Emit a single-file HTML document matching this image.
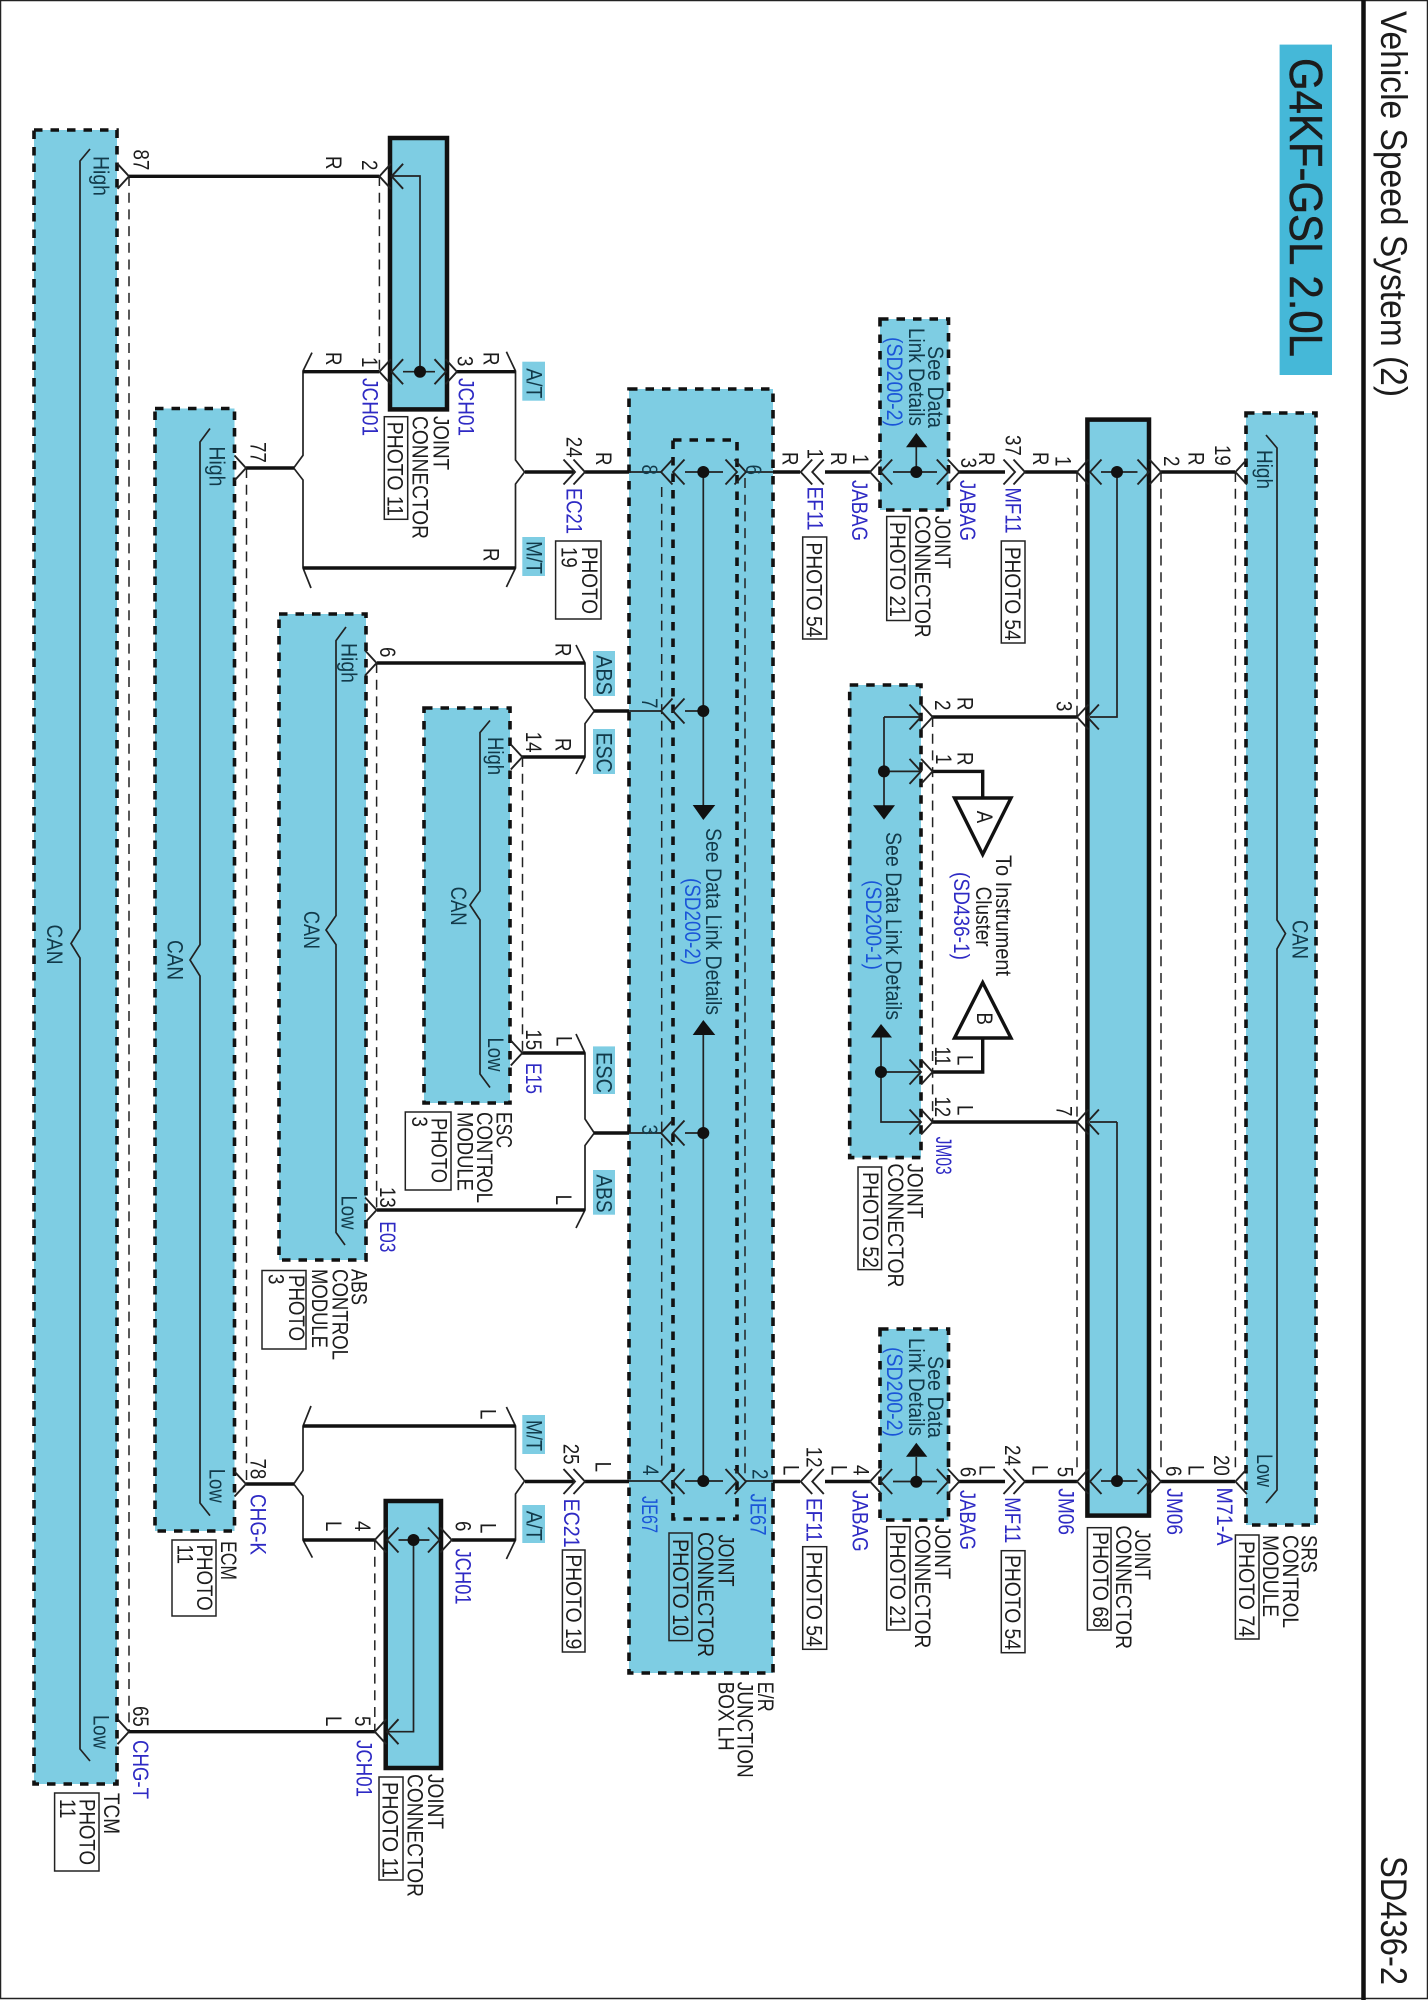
<!DOCTYPE html>
<html><head><meta charset="utf-8"><title>SD436-2</title>
<style>
html,body{margin:0;padding:0;background:#fff}
svg{display:block}
text{font-family:"Liberation Sans",sans-serif;font-size:22px;fill:#1c1c1c}
.b{fill:#2e2ac4}
.c{fill:#1a55d8}
.d{fill:#123a4a}
.box{fill:#7ecde3;stroke:#111;stroke-width:3.6;stroke-dasharray:8.5 8}
.solid{fill:#7ecde3;stroke:#111;stroke-width:4.5}
.ph{fill:none;stroke:#222;stroke-width:1.5}
.tag{fill:#7ecde3}
.T{fill:none;stroke:#111;stroke-width:3.4}
.t{fill:none;stroke:#222;stroke-width:1.7}
.da{fill:none;stroke:#222;stroke-width:1.5;stroke-dasharray:10 6.7}
.ch{fill:none;stroke:#222;stroke-width:1.9}
</style></head><body>
<svg width="1428" height="2000" viewBox="0 0 1428 2000" xmlns="http://www.w3.org/2000/svg">
<defs>
<path id="g" class="ch" d="M-11.5 -12.5L0 0L-11.5 12.5"/>
<path id="l" class="ch" d="M11.5 -12.5L0 0L11.5 12.5"/>
</defs>
<rect width="1428" height="2000" fill="#fff"/>
<rect x="0.5" y="0.5" width="1427" height="1998" fill="none" stroke="#222" stroke-width="1.5"/>
<path d="M1363.5 0V2000" stroke="#111" stroke-width="4.5" fill="none"/>
<rect x="1279.6" y="44.6" width="52.4" height="330.4" fill="#45b8d8"/>

<!-- dashed connectors -->
<path class="da" d="M129 176V1731M379.4 176V371M246.5 468V1484M376.6 663V1209M522.5 757V1053M1077 472V1474M1161 472V1474M1235.4 472V1474M932.6 717V1122M374.8 1540V1731"/>

<!-- boxes -->
<rect class="box" x="34" y="130" width="83" height="1654"/>
<rect class="box" x="155" y="408.5" width="79.5" height="1122.5"/>
<rect class="box" x="279" y="614" width="87" height="646"/>
<rect class="box" x="424" y="708" width="86" height="395"/>
<rect class="box" x="629" y="389" width="144" height="1284"/>
<path class="da" d="M661.7 487V1470M745 478V1474"/>
<rect class="box" x="673" y="440" width="64" height="1079"/>
<rect class="box" x="880" y="319" width="68.5" height="191"/>
<rect class="box" x="880" y="1329" width="68.5" height="191"/>
<rect class="box" x="849.7" y="685" width="71.3" height="472.6"/>
<rect class="box" x="1246" y="413" width="70" height="1112"/>
<rect class="solid" x="1087.4" y="419.6" width="61.6" height="1096"/>
<rect class="solid" x="390" y="138" width="57" height="271.4"/>
<rect class="solid" x="385.7" y="1501" width="55.3" height="267"/>

<!-- tags -->
<rect class="tag" x="522.3" y="361.7" width="22.7" height="39"/>
<rect class="tag" x="522.3" y="537" width="22.7" height="39"/>
<rect class="tag" x="593" y="651" width="22" height="45"/>
<rect class="tag" x="593" y="729" width="22" height="45"/>
<rect class="tag" x="593" y="1046.4" width="22" height="47.6"/>
<rect class="tag" x="593" y="1170" width="22" height="44.7"/>
<rect class="tag" x="522.3" y="1415" width="22.7" height="39"/>
<rect class="tag" x="522.3" y="1505" width="22.7" height="38"/>

<!-- photo boxes -->
<rect class="ph" x="384.3" y="416.7" width="23.4" height="102.6"/>
<rect class="ph" x="555.6" y="541" width="45.4" height="78"/>
<rect class="ph" x="405.3" y="1112" width="45.7" height="78"/>
<rect class="ph" x="262" y="1270.5" width="44" height="78.5"/>
<rect class="ph" x="172" y="1540" width="44" height="76"/>
<rect class="ph" x="54.6" y="1793" width="44.4" height="78"/>
<rect class="ph" x="379" y="1777" width="24" height="103"/>
<rect class="ph" x="562.4" y="1550" width="22.6" height="102"/>
<rect class="ph" x="669" y="1533" width="23" height="107.6"/>
<rect class="ph" x="802.7" y="537" width="24" height="102"/>
<rect class="ph" x="1001.3" y="541" width="23.7" height="102"/>
<rect class="ph" x="886.7" y="516.5" width="23.3" height="104"/>
<rect class="ph" x="858" y="1167" width="23.6" height="102.6"/>
<rect class="ph" x="802.7" y="1546.7" width="24" height="102.6"/>
<rect class="ph" x="886.7" y="1526.7" width="23.3" height="103.3"/>
<rect class="ph" x="1001.3" y="1550.7" width="23.7" height="102"/>
<rect class="ph" x="1087.4" y="1527.7" width="23.6" height="102.3"/>
<rect class="ph" x="1235.4" y="1535" width="23.6" height="104"/>

<!-- thin wires & brackets -->
<path class="t" d="M90 149L80 161V929L71 943.5L80 958V1749L90 1761
M210 428.5L200 442V944.6L190 960L200 976V1503L210 1515.6
M346 627L336 640.6V915.6L326 930L336 944.6V1232.5L345 1245
M490 720.5L480 732.6V891L470 905L480 920V1074L490 1087.5
M1266 435L1277 448V920L1285.5 933.5L1277 949V1490L1266 1503
M312 352.6L303 371V455.3L293.7 468L303 480V568L311 588
M506.4 351.8L515.5 371V460L524.6 472L515.5 484V568L506.4 587
M576 645L585 663V698L594.3 711L585 723.6V757L576 774
M576 1034L585 1053V1119L594.3 1133L585 1145.5V1210L576 1228
M311 1406L303 1426V1470.5L293.7 1484L303 1496V1540L312.4 1557.6
M506.4 1407L515.5 1426V1469L524.6 1481L515.5 1494V1540L506.4 1559
M391 176H420V371M403 371.7H435M413.5 1540V1731.7H387M398.5 1540H429.4
M629 472H661M685 472H723M746 472H773M629 711H661M685 711H703.3M629 1133H661M685 1133H703.3M629 1481H661M685 1481H723M746 1481H773
M703.3 472V806M703.3 1034V1481
M893 472H937M916.3 447V472M893 1481.5H937M916.3 1457V1481
M1101 472H1137.5M1117 472V717H1090M1117 1122V1481M1090 1122H1117M1101 1481H1137.5
M884 717V806M884 717H921M884 771.4H921M881 1037V1122H921M881 1072H921"/>

<!-- thick wires -->
<path class="T" d="M129 176.3H379M303 371.7H379M457 371.7H515.5M303 568H515.5M246 468H294M525 472H575M585 472H629M773 472H800M825 472H870M958 472H1005M1025 472H1077M1161 472H1235M377 663H585M522 757H585M594 711H629M522 1053H585M594 1133H629M377 1210H585M932 717H1077M932 1122H1077M932 771.4H982.7V798M932 1072H982.7V1038M303 1426H515.5M246 1484H294M303 1540H375M452 1540H515.5M129 1731.7H375M525 1481.5H575M585 1481.5H629M773 1481.5H800M825 1481.5H870M958 1481.5H1005M1025 1481.5H1077M1161 1481.5H1235"/>

<!-- chevrons -->
<use href="#g" x="129" y="176.3"/><use href="#l" x="379.4" y="176.3"/><use href="#l" x="391.6" y="176.3"/>
<use href="#l" x="379.4" y="371.7"/><use href="#l" x="391.6" y="371.7"/><use href="#g" x="446" y="371.7"/><use href="#g" x="457" y="371.7"/>
<use href="#g" x="246" y="468"/>
<use href="#g" x="575" y="472"/><use href="#g" x="585" y="472"/><use href="#l" x="661" y="472"/><use href="#l" x="673" y="472"/><use href="#g" x="737" y="472"/><use href="#g" x="746" y="472"/><use href="#l" x="800.7" y="472"/><use href="#l" x="812.3" y="472"/><use href="#l" x="870" y="472"/><use href="#l" x="880.7" y="472"/><use href="#g" x="948.3" y="472"/><use href="#g" x="959.3" y="472"/><use href="#g" x="1015" y="472"/><use href="#g" x="1025" y="472"/><use href="#l" x="1077" y="472"/><use href="#l" x="1090" y="472"/><use href="#g" x="1149" y="472"/><use href="#g" x="1161" y="472"/><use href="#l" x="1235.4" y="472"/>
<use href="#g" x="575" y="1481.5"/><use href="#g" x="585" y="1481.5"/><use href="#l" x="661" y="1481.5"/><use href="#l" x="673" y="1481.5"/><use href="#g" x="737" y="1481.5"/><use href="#g" x="746" y="1481.5"/><use href="#l" x="800.7" y="1481.5"/><use href="#l" x="812.3" y="1481.5"/><use href="#l" x="870" y="1481.5"/><use href="#l" x="880.7" y="1481.5"/><use href="#g" x="948.3" y="1481.5"/><use href="#g" x="959.3" y="1481.5"/><use href="#g" x="1015" y="1481.5"/><use href="#g" x="1025" y="1481.5"/><use href="#l" x="1077" y="1481.5"/><use href="#l" x="1090" y="1481.5"/><use href="#g" x="1149" y="1481.5"/><use href="#g" x="1161" y="1481.5"/><use href="#l" x="1235.4" y="1481.5"/>
<use href="#g" x="376.6" y="663"/><use href="#g" x="522.3" y="757"/><use href="#g" x="522.3" y="1053"/><use href="#g" x="376.6" y="1210"/>
<use href="#l" x="661" y="711"/><use href="#l" x="673" y="711"/><use href="#l" x="661" y="1133"/><use href="#l" x="673" y="1133"/>
<use href="#g" x="921" y="717"/><use href="#g" x="932.6" y="717"/><use href="#l" x="1077" y="717"/><use href="#l" x="1087.4" y="717"/>
<use href="#g" x="921" y="771.4"/><use href="#g" x="932.6" y="771.4"/><use href="#g" x="921" y="1072"/><use href="#g" x="932.6" y="1072"/>
<use href="#g" x="921" y="1122"/><use href="#g" x="932.6" y="1122"/><use href="#l" x="1077" y="1122"/><use href="#l" x="1087.4" y="1122"/>
<use href="#g" x="246" y="1484"/>
<use href="#l" x="374.8" y="1540"/><use href="#l" x="387" y="1540"/><use href="#g" x="439.5" y="1540"/><use href="#g" x="451.8" y="1540"/>
<use href="#g" x="129" y="1731.7"/><use href="#l" x="374.8" y="1731.7"/><use href="#l" x="387" y="1731.7"/>

<!-- dots -->
<g fill="#111">
<circle cx="420" cy="371.7" r="6"/><circle cx="413.5" cy="1540" r="6"/>
<circle cx="703.3" cy="472" r="6"/><circle cx="703.3" cy="711" r="6"/><circle cx="703.3" cy="1133" r="6"/><circle cx="703.3" cy="1481" r="6"/>
<circle cx="916.3" cy="472" r="6"/><circle cx="916.3" cy="1481.7" r="6"/>
<circle cx="1117" cy="472" r="6"/><circle cx="1117" cy="1481" r="6"/>
<circle cx="884" cy="771.4" r="6"/><circle cx="881" cy="1072" r="6"/>
<!-- arrowheads -->
<path d="M692.7 805H715.3L703.3 820Z"/><path d="M692.7 1035H715.3L703.3 1020Z"/>
<path d="M906 447.3H927.3L916.3 433Z"/><path d="M906 1456.7H927.3L916.3 1442.7Z"/>
<path d="M873 805.3H895L884 819.6Z"/><path d="M871 1037.5H892L881 1024Z"/>
</g>
<path d="M954.5 798H1011L982.7 854.5Z" fill="#fff" stroke="#111" stroke-width="3.4"/>
<path d="M954.5 1038H1011L982.7 982.6Z" fill="#fff" stroke="#111" stroke-width="3.4"/>

<!-- header -->
<text transform="translate(1381 11)rotate(90)" style="font-size:37px" textLength="386" lengthAdjust="spacingAndGlyphs">Vehicle Speed System (2)</text>
<text transform="translate(1381 1856)rotate(90)" style="font-size:37px" textLength="129" lengthAdjust="spacingAndGlyphs">SD436-2</text>
<text transform="translate(1290 58)rotate(90)" style="font-size:46px;stroke:#1c1c1c;stroke-width:.5" textLength="299" lengthAdjust="spacingAndGlyphs">G4KF-GSL 2.0L</text>

<!-- box inner labels -->
<text class="d" transform="translate(93.4 156)rotate(90)" textLength="40" lengthAdjust="spacingAndGlyphs">High</text>
<text class="d" transform="translate(93.4 1715)rotate(90)" textLength="34" lengthAdjust="spacingAndGlyphs">Low</text>
<text class="d" transform="translate(47 924.5)rotate(90)" textLength="40" lengthAdjust="spacingAndGlyphs">CAN</text>
<text class="d" transform="translate(209.5 446.4)rotate(90)" textLength="40" lengthAdjust="spacingAndGlyphs">High</text>
<text class="d" transform="translate(209.5 1468.7)rotate(90)" textLength="34" lengthAdjust="spacingAndGlyphs">Low</text>
<text class="d" transform="translate(167.6 940)rotate(90)" textLength="40" lengthAdjust="spacingAndGlyphs">CAN</text>
<text class="d" transform="translate(341.5 643)rotate(90)" textLength="40" lengthAdjust="spacingAndGlyphs">High</text>
<text class="d" transform="translate(341.5 1195.5)rotate(90)" textLength="34" lengthAdjust="spacingAndGlyphs">Low</text>
<text class="d" transform="translate(304 911)rotate(90)" textLength="38" lengthAdjust="spacingAndGlyphs">CAN</text>
<text class="d" transform="translate(488 737)rotate(90)" textLength="38" lengthAdjust="spacingAndGlyphs">High</text>
<text class="d" transform="translate(488 1037.5)rotate(90)" textLength="34" lengthAdjust="spacingAndGlyphs">Low</text>
<text class="d" transform="translate(451 886.6)rotate(90)" textLength="39" lengthAdjust="spacingAndGlyphs">CAN</text>
<text class="d" transform="translate(1257 450)rotate(90)" textLength="39" lengthAdjust="spacingAndGlyphs">High</text>
<text class="d" transform="translate(1257 1454)rotate(90)" textLength="33" lengthAdjust="spacingAndGlyphs">Low</text>
<text class="d" transform="translate(1292.4 920)rotate(90)" textLength="39" lengthAdjust="spacingAndGlyphs">CAN</text>

<!-- tag labels -->
<text class="d" transform="translate(526.7 368.3)rotate(90)" textLength="30" lengthAdjust="spacingAndGlyphs">A/T</text>
<text class="d" transform="translate(526.7 541)rotate(90)" textLength="33" lengthAdjust="spacingAndGlyphs">M/T</text>
<text class="d" transform="translate(596.6 655)rotate(90)" textLength="40" lengthAdjust="spacingAndGlyphs">ABS</text>
<text class="d" transform="translate(596.6 732.6)rotate(90)" textLength="40" lengthAdjust="spacingAndGlyphs">ESC</text>
<text class="d" transform="translate(596.6 1052)rotate(90)" textLength="41" lengthAdjust="spacingAndGlyphs">ESC</text>
<text class="d" transform="translate(596.6 1174.5)rotate(90)" textLength="38" lengthAdjust="spacingAndGlyphs">ABS</text>
<text class="d" transform="translate(526.7 1420)rotate(90)" textLength="31" lengthAdjust="spacingAndGlyphs">M/T</text>
<text class="d" transform="translate(526.7 1510.7)rotate(90)" textLength="30" lengthAdjust="spacingAndGlyphs">A/T</text>

<!-- pin numbers and wire colours -->
<text transform="translate(133.4 149.5)rotate(90)scale(.85 1)">87</text>
<text transform="translate(362 160)rotate(90)scale(.85 1)">2</text>
<text transform="translate(326 156)rotate(90)scale(.85 1)">R</text>
<text transform="translate(326 352)rotate(90)scale(.85 1)">R</text>
<text transform="translate(362 357)rotate(90)scale(.85 1)">1</text>
<text transform="translate(457.7 356)rotate(90)scale(.85 1)">3</text>
<text transform="translate(483.6 352)rotate(90)scale(.85 1)">R</text>
<text transform="translate(483.6 548)rotate(90)scale(.85 1)">R</text>
<text transform="translate(250.5 442)rotate(90)scale(.85 1)">77</text>
<text transform="translate(566.7 436.7)rotate(90)scale(.85 1)">24</text>
<text transform="translate(596 452)rotate(90)scale(.85 1)">R</text>
<text transform="translate(380 647)rotate(90)scale(.85 1)">6</text>
<text transform="translate(555.6 643)rotate(90)scale(.85 1)">R</text>
<text transform="translate(526 731.7)rotate(90)scale(.85 1)">14</text>
<text transform="translate(555.6 738)rotate(90)scale(.85 1)">R</text>
<text transform="translate(526 1029.4)rotate(90)scale(.85 1)">15</text>
<text transform="translate(556.5 1036)rotate(90)scale(.85 1)">L</text>
<text transform="translate(380 1187)rotate(90)scale(.85 1)">13</text>
<text transform="translate(556 1194.6)rotate(90)scale(.85 1)">L</text>
<text class="d" transform="translate(642 464.5)rotate(90)scale(.85 1)">8</text>
<text class="d" transform="translate(746 464.5)rotate(90)scale(.85 1)">6</text>
<text class="d" transform="translate(642 698)rotate(90)scale(.85 1)">7</text>
<text class="d" transform="translate(642 1124.5)rotate(90)scale(.85 1)">3</text>
<text class="d" transform="translate(643 1465)rotate(90)scale(.85 1)">4</text>
<text class="d" transform="translate(752.7 1469)rotate(90)scale(.85 1)">2</text>
<text transform="translate(782.3 452)rotate(90)scale(.85 1)">R</text>
<text transform="translate(807.4 448.6)rotate(90)scale(.85 1)">1</text>
<text transform="translate(831 452)rotate(90)scale(.85 1)">R</text>
<text transform="translate(853 454)rotate(90)scale(.85 1)">1</text>
<text transform="translate(961 457.6)rotate(90)scale(.85 1)">3</text>
<text transform="translate(979 452)rotate(90)scale(.85 1)">R</text>
<text transform="translate(1005.5 435)rotate(90)scale(.85 1)">37</text>
<text transform="translate(1033 452)rotate(90)scale(.85 1)">R</text>
<text transform="translate(1055.5 456)rotate(90)scale(.85 1)">1</text>
<text transform="translate(1164 456)rotate(90)scale(.85 1)">2</text>
<text transform="translate(1188.5 452)rotate(90)scale(.85 1)">R</text>
<text transform="translate(1215 445)rotate(90)scale(.85 1)">19</text>
<text transform="translate(935 700)rotate(90)scale(.85 1)">2</text>
<text transform="translate(957.6 697)rotate(90)scale(.85 1)">R</text>
<text transform="translate(936 754)rotate(90)scale(.85 1)">1</text>
<text transform="translate(957.6 752)rotate(90)scale(.85 1)">R</text>
<text transform="translate(1056.5 701)rotate(90)scale(.85 1)">3</text>
<text transform="translate(935 1046.4)rotate(90)scale(.85 1)">11</text>
<text transform="translate(957.6 1055)rotate(90)scale(.85 1)">L</text>
<text transform="translate(935 1096.4)rotate(90)scale(.85 1)">12</text>
<text transform="translate(957.6 1105)rotate(90)scale(.85 1)">L</text>
<text transform="translate(1056.5 1106)rotate(90)scale(.85 1)">7</text>
<text transform="translate(977 810.7)rotate(90)scale(.85 1)">A</text>
<text transform="translate(977 1012.5)rotate(90)scale(.85 1)">B</text>
<text transform="translate(783.3 1465)rotate(90)scale(.85 1)">L</text>
<text transform="translate(806.7 1446.7)rotate(90)scale(.85 1)">12</text>
<text transform="translate(831.7 1465)rotate(90)scale(.85 1)">L</text>
<text transform="translate(853.3 1465)rotate(90)scale(.85 1)">4</text>
<text transform="translate(960.7 1466.7)rotate(90)scale(.85 1)">6</text>
<text transform="translate(979.3 1465)rotate(90)scale(.85 1)">L</text>
<text transform="translate(1005 1445)rotate(90)scale(.85 1)">24</text>
<text transform="translate(1032.7 1465)rotate(90)scale(.85 1)">L</text>
<text transform="translate(1057.3 1466.7)rotate(90)scale(.85 1)">5</text>
<text transform="translate(1166 1466)rotate(90)scale(.85 1)">6</text>
<text transform="translate(1188.5 1465)rotate(90)scale(.85 1)">L</text>
<text transform="translate(1214 1455)rotate(90)scale(.85 1)">20</text>
<text transform="translate(250.5 1458.5)rotate(90)scale(.85 1)">78</text>
<text transform="translate(563.3 1443.7)rotate(90)scale(.85 1)">25</text>
<text transform="translate(595.6 1461.6)rotate(90)scale(.85 1)">L</text>
<text transform="translate(480.4 1409)rotate(90)scale(.85 1)">L</text>
<text transform="translate(326 1521)rotate(90)scale(.85 1)">L</text>
<text transform="translate(355 1521)rotate(90)scale(.85 1)">4</text>
<text transform="translate(455.4 1521)rotate(90)scale(.85 1)">6</text>
<text transform="translate(480.4 1523)rotate(90)scale(.85 1)">L</text>
<text transform="translate(133 1706)rotate(90)scale(.85 1)">65</text>
<text transform="translate(326 1716)rotate(90)scale(.85 1)">L</text>
<text transform="translate(355 1716)rotate(90)scale(.85 1)">5</text>

<!-- blue connector ids -->
<text class="b" transform="translate(362.7 378)rotate(90)" textLength="58" lengthAdjust="spacingAndGlyphs">JCH01</text>
<text class="b" transform="translate(458.3 378)rotate(90)" textLength="58" lengthAdjust="spacingAndGlyphs">JCH01</text>
<text class="b" transform="translate(566.7 488)rotate(90)" textLength="46" lengthAdjust="spacingAndGlyphs">EC21</text>
<text class="b" transform="translate(526 1063)rotate(90)" textLength="31" lengthAdjust="spacingAndGlyphs">E15</text>
<text class="b" transform="translate(380 1221.4)rotate(90)" textLength="31" lengthAdjust="spacingAndGlyphs">E03</text>
<text class="b" transform="translate(807.4 486.6)rotate(90)" textLength="44" lengthAdjust="spacingAndGlyphs">EF11</text>
<text class="b" transform="translate(852 480)rotate(90)" textLength="61" lengthAdjust="spacingAndGlyphs">JABAG</text>
<text class="b" transform="translate(960 480)rotate(90)" textLength="61" lengthAdjust="spacingAndGlyphs">JABAG</text>
<text class="b" transform="translate(1005.5 487.5)rotate(90)" textLength="46" lengthAdjust="spacingAndGlyphs">MF11</text>
<text class="b" transform="translate(936 1136.6)rotate(90)" textLength="38" lengthAdjust="spacingAndGlyphs">JM03</text>
<text class="b" transform="translate(806.7 1498)rotate(90)" textLength="44" lengthAdjust="spacingAndGlyphs">EF11</text>
<text class="b" transform="translate(852.7 1490)rotate(90)" textLength="61.7" lengthAdjust="spacingAndGlyphs">JABAG</text>
<text class="b" transform="translate(960 1490)rotate(90)" textLength="60" lengthAdjust="spacingAndGlyphs">JABAG</text>
<text class="b" transform="translate(1005 1497.3)rotate(90)" textLength="46" lengthAdjust="spacingAndGlyphs">MF11</text>
<text class="b" transform="translate(1058.3 1488.3)rotate(90)" textLength="46.7" lengthAdjust="spacingAndGlyphs">JM06</text>
<text class="b" transform="translate(1167 1488.3)rotate(90)" textLength="46.7" lengthAdjust="spacingAndGlyphs">JM06</text>
<text class="b" transform="translate(1217 1487.5)rotate(90)" textLength="58" lengthAdjust="spacingAndGlyphs">M71-A</text>
<text class="b" transform="translate(250.5 1494)rotate(90)" textLength="61" lengthAdjust="spacingAndGlyphs">CHG-K</text>
<text class="b" transform="translate(563.8 1498.6)rotate(90)" textLength="49" lengthAdjust="spacingAndGlyphs">EC21</text>
<text class="b" transform="translate(455.4 1548.6)rotate(90)" textLength="56" lengthAdjust="spacingAndGlyphs">JCH01</text>
<text class="b" transform="translate(133 1740)rotate(90)" textLength="59" lengthAdjust="spacingAndGlyphs">CHG-T</text>
<text class="b" transform="translate(356.6 1740)rotate(90)" textLength="57" lengthAdjust="spacingAndGlyphs">JCH01</text>
<text class="c" transform="translate(642 1496)rotate(90)" textLength="37" lengthAdjust="spacingAndGlyphs">JE67</text>
<text class="c" transform="translate(750.4 1493.5)rotate(90)" textLength="42" lengthAdjust="spacingAndGlyphs">JE67</text>
<text class="b" transform="translate(954 872)rotate(90)" textLength="88" lengthAdjust="spacingAndGlyphs">(SD436-1)</text>
<text class="c" transform="translate(866 880)rotate(90)" textLength="90" lengthAdjust="spacingAndGlyphs">(SD200-1)</text>
<text class="c" transform="translate(685 878)rotate(90)" textLength="87" lengthAdjust="spacingAndGlyphs">(SD200-2)</text>
<text class="c" transform="translate(887 337)rotate(90)" textLength="90" lengthAdjust="spacingAndGlyphs">(SD200-2)</text>
<text class="c" transform="translate(887 1347)rotate(90)" textLength="90" lengthAdjust="spacingAndGlyphs">(SD200-2)</text>

<!-- see data link -->
<text class="d" transform="translate(706 828)rotate(90)" textLength="187" lengthAdjust="spacingAndGlyphs">See Data Link Details</text>
<text class="d" transform="translate(886 832)rotate(90)" textLength="188" lengthAdjust="spacingAndGlyphs">See Data Link Details</text>
<text class="d" transform="translate(928 346)rotate(90)" textLength="82" lengthAdjust="spacingAndGlyphs">See Data</text>
<text class="d" transform="translate(909 328)rotate(90)" textLength="98" lengthAdjust="spacingAndGlyphs">Link Details</text>
<text class="d" transform="translate(928 1356)rotate(90)" textLength="82" lengthAdjust="spacingAndGlyphs">See Data</text>
<text class="d" transform="translate(909 1338)rotate(90)" textLength="98" lengthAdjust="spacingAndGlyphs">Link Details</text>
<text transform="translate(996 855)rotate(90)" textLength="121" lengthAdjust="spacingAndGlyphs">To Instrument</text>
<text transform="translate(976 886.6)rotate(90)" textLength="60" lengthAdjust="spacingAndGlyphs">Cluster</text>

<!-- component labels -->
<text transform="translate(433.3 416)rotate(90)" textLength="54" lengthAdjust="spacingAndGlyphs">JOINT</text>
<text transform="translate(412.7 416)rotate(90)" textLength="123" lengthAdjust="spacingAndGlyphs">CONNECTOR</text>
<text transform="translate(387.7 421.7)rotate(90)" textLength="94.3" lengthAdjust="spacingAndGlyphs">PHOTO 11</text>
<text transform="translate(582 547)rotate(90)" textLength="67" lengthAdjust="spacingAndGlyphs">PHOTO</text>
<text transform="translate(561.5 547)rotate(90)scale(.85 1)">19</text>
<text transform="translate(496.4 1112)rotate(90)" textLength="36" lengthAdjust="spacingAndGlyphs">ESC</text>
<text transform="translate(477 1112)rotate(90)" textLength="91" lengthAdjust="spacingAndGlyphs">CONTROL</text>
<text transform="translate(457.6 1112)rotate(90)" textLength="79" lengthAdjust="spacingAndGlyphs">MODULE</text>
<text transform="translate(431.7 1118)rotate(90)" textLength="65" lengthAdjust="spacingAndGlyphs">PHOTO</text>
<text transform="translate(412 1116.5)rotate(90)scale(.85 1)">3</text>
<text transform="translate(351.6 1269)rotate(90)" textLength="36" lengthAdjust="spacingAndGlyphs">ABS</text>
<text transform="translate(332.4 1269)rotate(90)" textLength="91" lengthAdjust="spacingAndGlyphs">CONTROL</text>
<text transform="translate(312 1269)rotate(90)" textLength="79" lengthAdjust="spacingAndGlyphs">MODULE</text>
<text transform="translate(289 1275)rotate(90)" textLength="66" lengthAdjust="spacingAndGlyphs">PHOTO</text>
<text transform="translate(268.7 1274)rotate(90)scale(.85 1)">3</text>
<text transform="translate(221 1541)rotate(90)" textLength="39" lengthAdjust="spacingAndGlyphs">ECM</text>
<text transform="translate(197 1544.6)rotate(90)" textLength="66" lengthAdjust="spacingAndGlyphs">PHOTO</text>
<text transform="translate(177.6 1544.6)rotate(90)scale(.85 1)">11</text>
<text transform="translate(104 1793)rotate(90)" textLength="41" lengthAdjust="spacingAndGlyphs">TCM</text>
<text transform="translate(79.7 1799)rotate(90)" textLength="66" lengthAdjust="spacingAndGlyphs">PHOTO</text>
<text transform="translate(60 1799)rotate(90)scale(.85 1)">11</text>
<text transform="translate(566 1554.4)rotate(90)" textLength="95" lengthAdjust="spacingAndGlyphs">PHOTO 19</text>
<text transform="translate(428 1774)rotate(90)" textLength="55" lengthAdjust="spacingAndGlyphs">JOINT</text>
<text transform="translate(407.6 1774)rotate(90)" textLength="123" lengthAdjust="spacingAndGlyphs">CONNECTOR</text>
<text transform="translate(382.5 1782)rotate(90)" textLength="96" lengthAdjust="spacingAndGlyphs">PHOTO 11</text>
<text transform="translate(718.5 1534.5)rotate(90)" textLength="52" lengthAdjust="spacingAndGlyphs">JOINT</text>
<text transform="translate(698 1532)rotate(90)" textLength="125" lengthAdjust="spacingAndGlyphs">CONNECTOR</text>
<text transform="translate(673 1539)rotate(90)" textLength="97" lengthAdjust="spacingAndGlyphs">PHOTO 10</text>
<text transform="translate(758 1681.7)rotate(90)" textLength="30" lengthAdjust="spacingAndGlyphs">E/R</text>
<text transform="translate(737.7 1681.7)rotate(90)" textLength="96" lengthAdjust="spacingAndGlyphs">JUNCTION</text>
<text transform="translate(718.5 1681.7)rotate(90)" textLength="69" lengthAdjust="spacingAndGlyphs">BOX LH</text>
<text transform="translate(806.7 542.4)rotate(90)" textLength="95" lengthAdjust="spacingAndGlyphs">PHOTO 54</text>
<text transform="translate(1005 547)rotate(90)" textLength="93.5" lengthAdjust="spacingAndGlyphs">PHOTO 54</text>
<text transform="translate(935 515.6)rotate(90)" textLength="53" lengthAdjust="spacingAndGlyphs">JOINT</text>
<text transform="translate(915 515.6)rotate(90)" textLength="122" lengthAdjust="spacingAndGlyphs">CONNECTOR</text>
<text transform="translate(890 522)rotate(90)" textLength="95" lengthAdjust="spacingAndGlyphs">PHOTO 21</text>
<text transform="translate(907.5 1163.4)rotate(90)" textLength="55" lengthAdjust="spacingAndGlyphs">JOINT</text>
<text transform="translate(888 1163.4)rotate(90)" textLength="124" lengthAdjust="spacingAndGlyphs">CONNECTOR</text>
<text transform="translate(863 1172)rotate(90)" textLength="96" lengthAdjust="spacingAndGlyphs">PHOTO 52</text>
<text transform="translate(806.7 1551.7)rotate(90)" textLength="95" lengthAdjust="spacingAndGlyphs">PHOTO 54</text>
<text transform="translate(935 1525)rotate(90)" textLength="54.3" lengthAdjust="spacingAndGlyphs">JOINT</text>
<text transform="translate(915 1525)rotate(90)" textLength="123.3" lengthAdjust="spacingAndGlyphs">CONNECTOR</text>
<text transform="translate(890 1531.7)rotate(90)" textLength="95" lengthAdjust="spacingAndGlyphs">PHOTO 21</text>
<text transform="translate(1005 1555)rotate(90)" textLength="95" lengthAdjust="spacingAndGlyphs">PHOTO 54</text>
<text transform="translate(1135 1530)rotate(90)" textLength="50" lengthAdjust="spacingAndGlyphs">JOINT</text>
<text transform="translate(1116 1525.4)rotate(90)" textLength="123.6" lengthAdjust="spacingAndGlyphs">CONNECTOR</text>
<text transform="translate(1093 1532)rotate(90)" textLength="96" lengthAdjust="spacingAndGlyphs">PHOTO 68</text>
<text transform="translate(1301.5 1535)rotate(90)" textLength="38" lengthAdjust="spacingAndGlyphs">SRS</text>
<text transform="translate(1283 1535)rotate(90)" textLength="93" lengthAdjust="spacingAndGlyphs">CONTROL</text>
<text transform="translate(1263 1535)rotate(90)" textLength="82" lengthAdjust="spacingAndGlyphs">MODULE</text>
<text transform="translate(1239 1541)rotate(90)" textLength="96" lengthAdjust="spacingAndGlyphs">PHOTO 74</text>
</svg>
</body></html>
